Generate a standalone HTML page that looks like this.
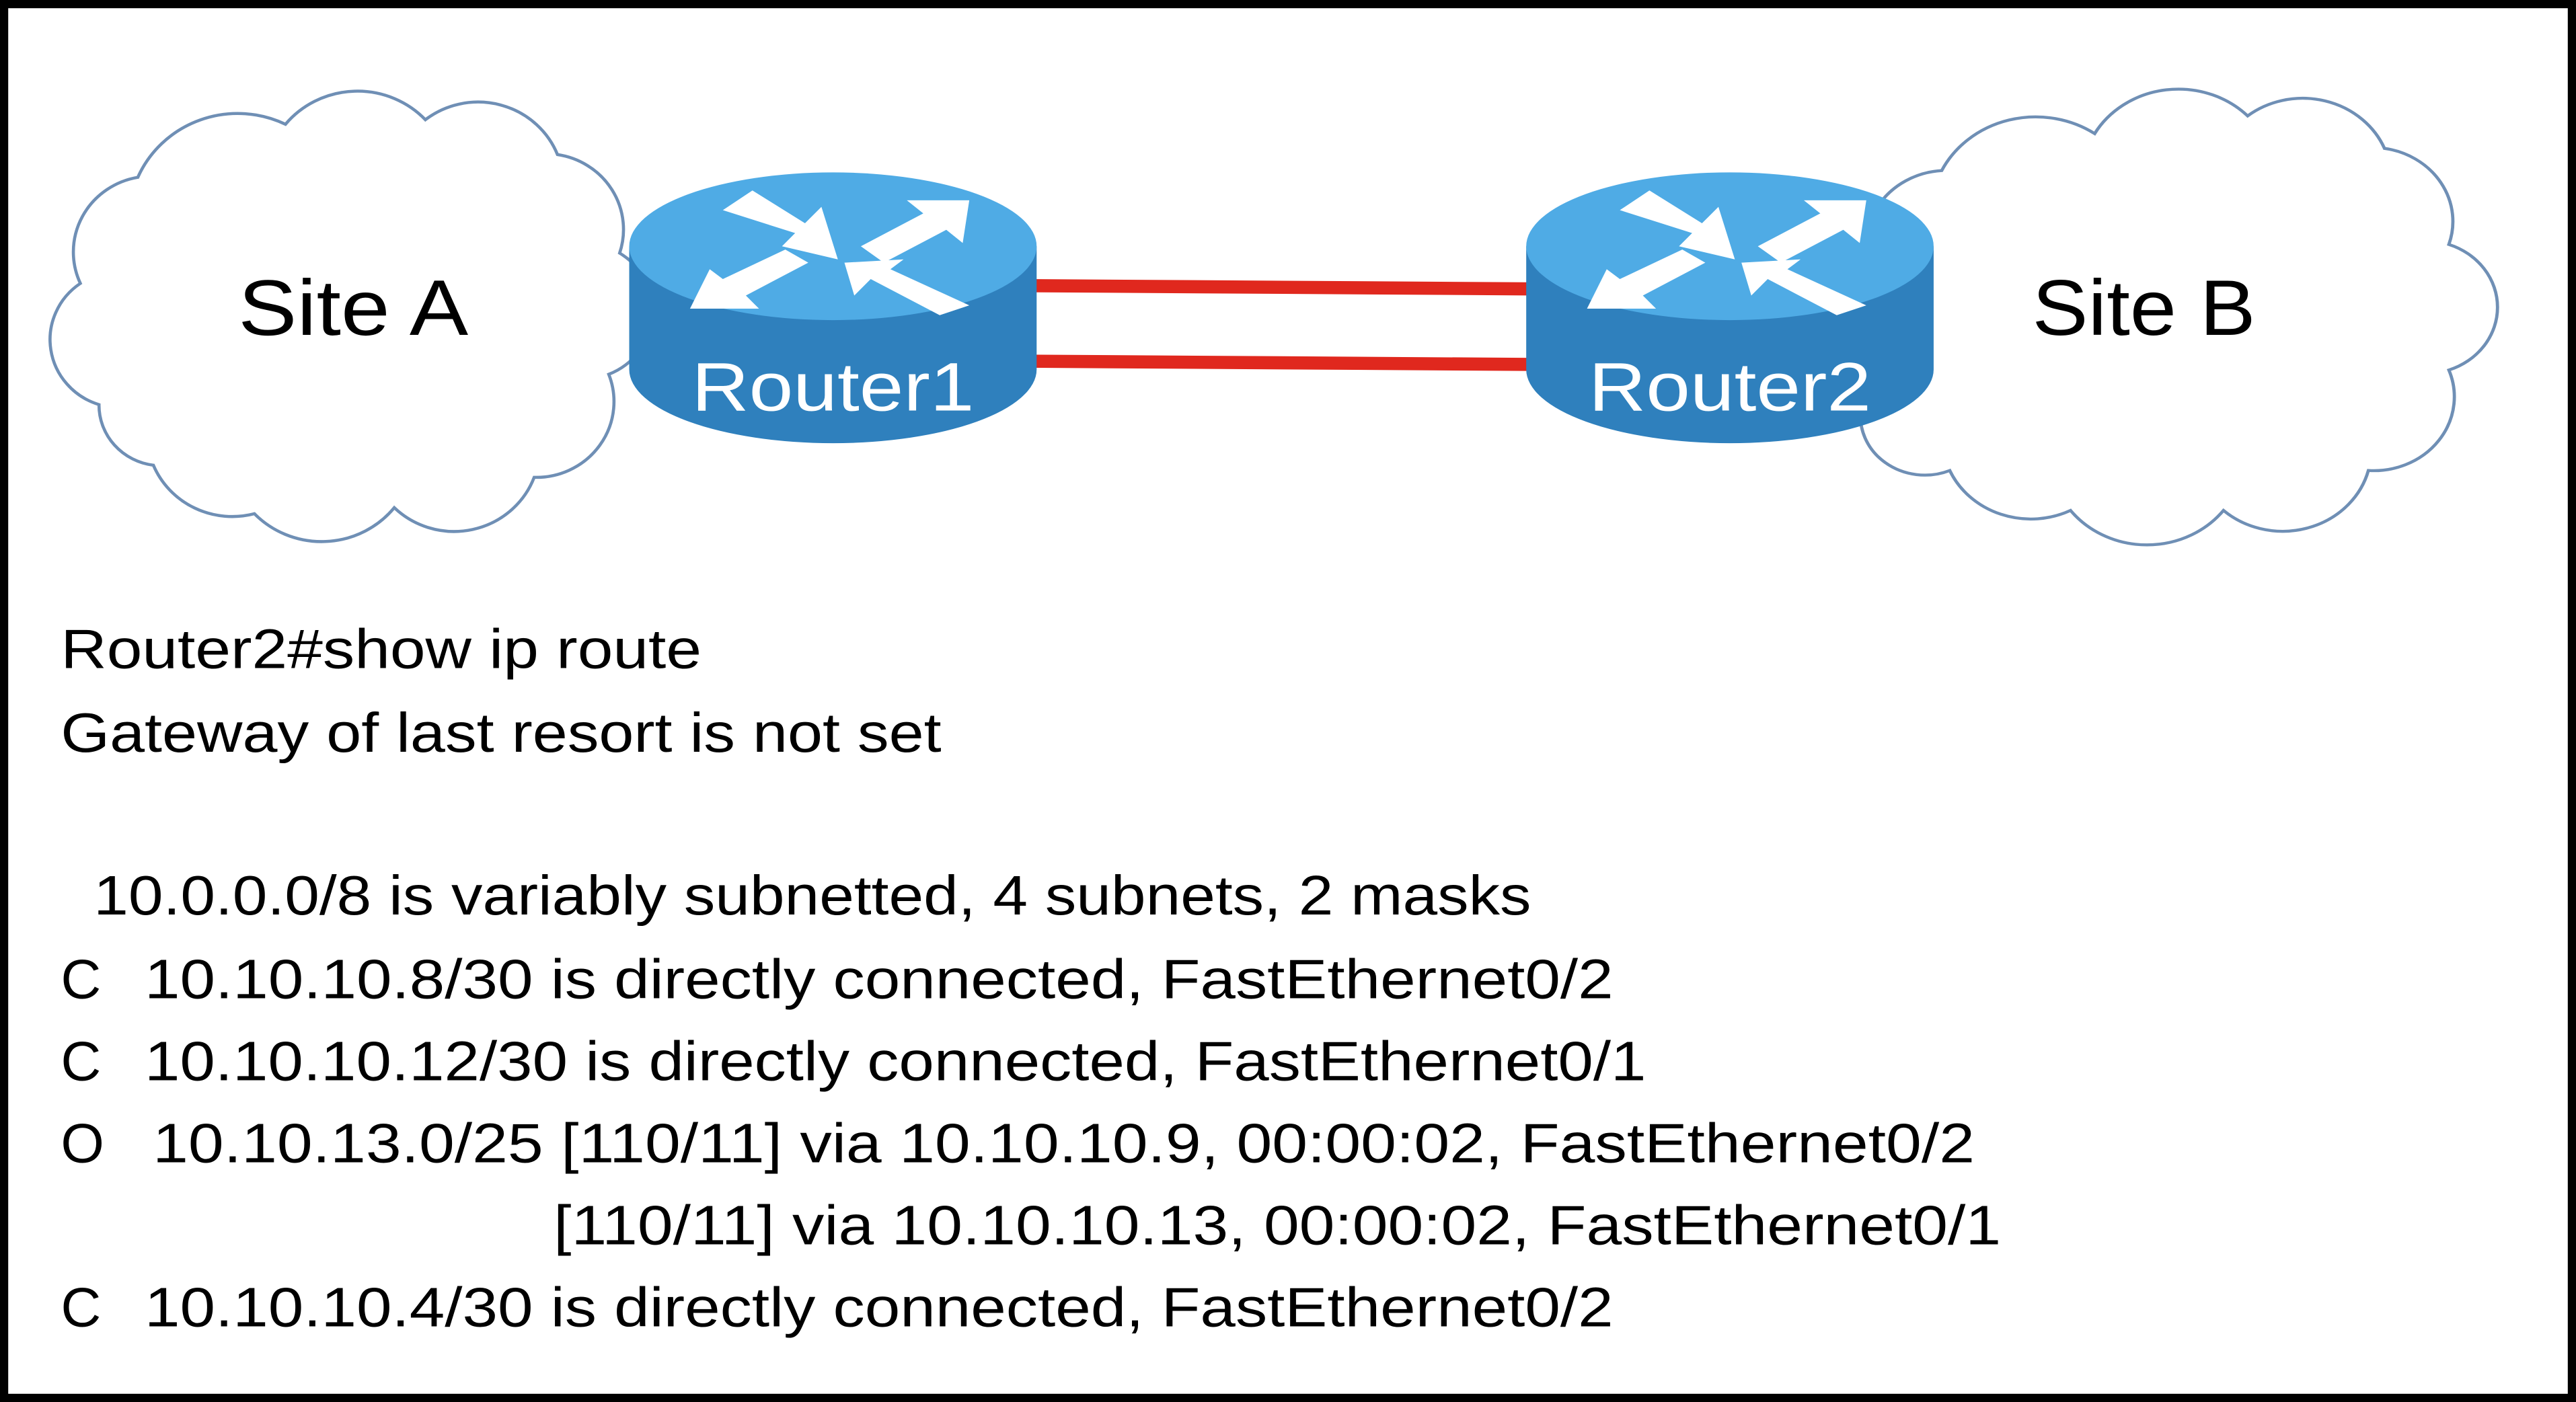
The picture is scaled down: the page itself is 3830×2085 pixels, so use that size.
<!DOCTYPE html>
<html><head><meta charset="utf-8"><style>
html,body{margin:0;padding:0;background:#fff;}
svg{display:block;}
</style></head><body>
<svg width="3830" height="2085" viewBox="0 0 1568 854" preserveAspectRatio="none" xmlns="http://www.w3.org/2000/svg">
<rect x="0" y="0" width="1568" height="854" fill="#fff"/>
<rect x="2.5" y="2.5" width="1563" height="849" fill="none" stroke="#000" stroke-width="5"/>
<!-- Cloud A -->
<g transform="translate(205,192) scale(0.946,0.923) translate(-203,-191)">
<path d="M50,250 A45,45 0 0 1 38,170 A50,50 0 0 1 75,100 A70,70 0 0 1 170,65 A60,60 0 0 1 260,62 A55,55 0 0 1 345,85 A50,50 0 0 1 385,150 A45,45 0 0 1 378,230 A50,50 0 0 1 330,298 A55,55 0 0 1 240,318 A60,60 0 0 1 150,322 A55,55 0 0 1 85,290 A40,40 0 0 1 50,250 Z" fill="#fff" stroke="#6f8fb5" stroke-width="2"/>
</g>
<!-- Cloud B -->
<g transform="translate(1325,193) scale(0.98,0.9) translate(-1336,-194)">
<path d="M1140,255 A45,45 0 0 1 1150,170 A50,50 0 0 1 1190,95 A65,65 0 0 1 1285,70 A60,60 0 0 1 1380,58 A55,55 0 0 1 1465,80 A50,50 0 0 1 1505,145 A45,45 0 0 1 1505,230 A50,50 0 0 1 1455,298 A55,55 0 0 1 1365,325 A60,60 0 0 1 1270,325 A55,55 0 0 1 1195,298 A40,40 0 0 1 1140,255 Z" fill="#fff" stroke="#6f8fb5" stroke-width="2"/>
</g>
<text x="215" y="204" font-family="Liberation Sans, sans-serif" font-size="48" text-anchor="middle" fill="#000" textLength="140" lengthAdjust="spacingAndGlyphs">Site A</text>
<text x="1305" y="204" font-family="Liberation Sans, sans-serif" font-size="48" text-anchor="middle" fill="#000" textLength="136" lengthAdjust="spacingAndGlyphs">Site B</text>
<!-- red links -->
<line x1="625" y1="174" x2="935" y2="176" stroke="#e0281e" stroke-width="8"/>
<line x1="625" y1="220" x2="935" y2="222" stroke="#e0281e" stroke-width="8"/>
<!-- Router1 -->
<g>
<path d="M383,150 L383,225 A124,45 0 0 0 631,225 L631,150 Z" fill="#2f80bd"/>
<ellipse cx="507" cy="150" rx="124" ry="45" fill="#4fabe5"/>
<g fill="#fff">
<polygon points="440,128 458,116 490,136 500,126 510,158 476,150 484,142"/>
<polygon points="580,122 590,122 586,148 576,140 538,160 524,150 562,130 552,122"/>
<polygon points="420,188 432,164 440,170 478,152 492,160 454,180 462,188"/>
<polygon points="590,186 572,192 530,170 520,180 514,160 550,158 542,164"/>
</g>
<text x="507" y="250" font-family="Liberation Sans, sans-serif" font-size="42" text-anchor="middle" fill="#fff" textLength="172" lengthAdjust="spacingAndGlyphs">Router1</text>
</g>
<g transform="translate(546,0)">
<path d="M383,150 L383,225 A124,45 0 0 0 631,225 L631,150 Z" fill="#2f80bd"/>
<ellipse cx="507" cy="150" rx="124" ry="45" fill="#4fabe5"/>
<g fill="#fff">
<polygon points="440,128 458,116 490,136 500,126 510,158 476,150 484,142"/>
<polygon points="580,122 590,122 586,148 576,140 538,160 524,150 562,130 552,122"/>
<polygon points="420,188 432,164 440,170 478,152 492,160 454,180 462,188"/>
<polygon points="590,186 572,192 530,170 520,180 514,160 550,158 542,164"/>
</g>
<text x="507" y="250" font-family="Liberation Sans, sans-serif" font-size="42" text-anchor="middle" fill="#fff" textLength="172" lengthAdjust="spacingAndGlyphs">Router2</text>
</g>
<g font-family="Liberation Sans, sans-serif" font-size="34" fill="#000">
<text x="37" y="407" textLength="390" lengthAdjust="spacingAndGlyphs">Router2#show ip route</text>
<text x="37" y="458" textLength="536" lengthAdjust="spacingAndGlyphs">Gateway of last resort is not set</text>
<text x="57" y="557" textLength="875" lengthAdjust="spacingAndGlyphs">10.0.0.0/8 is variably subnetted, 4 subnets, 2 masks</text>
<text x="37" y="608">C</text>
<text x="88" y="608" textLength="894" lengthAdjust="spacingAndGlyphs">10.10.10.8/30 is directly connected, FastEthernet0/2</text>
<text x="37" y="658">C</text>
<text x="88" y="658" textLength="914" lengthAdjust="spacingAndGlyphs">10.10.10.12/30 is directly connected, FastEthernet0/1</text>
<text x="37" y="708">O</text>
<text x="93" y="708" textLength="1109" lengthAdjust="spacingAndGlyphs">10.10.13.0/25 [110/11] via 10.10.10.9, 00:00:02, FastEthernet0/2</text>
<text x="337" y="758" textLength="881" lengthAdjust="spacingAndGlyphs">[110/11] via 10.10.10.13, 00:00:02, FastEthernet0/1</text>
<text x="37" y="808">C</text>
<text x="88" y="808" textLength="894" lengthAdjust="spacingAndGlyphs">10.10.10.4/30 is directly connected, FastEthernet0/2</text>
</g>
</svg>
</body></html>
